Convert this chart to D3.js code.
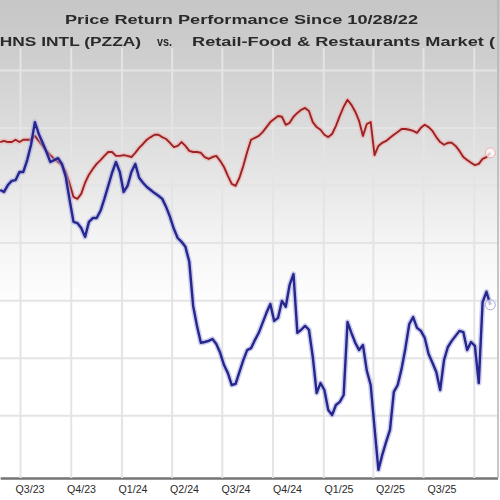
<!DOCTYPE html>
<html>
<head>
<meta charset="utf-8">
<script src="https://cdn.jsdelivr.net/npm/d3@7"></script>
<style>
body { margin: 0; background: #fff; }
svg { display: block; font-family: Arial, "Liberation Sans", sans-serif; }
</style>
</head>
<body>
<svg width="500" height="500"></svg>
<script>
// weekly closes (Fridays), % price return since 10/28/22
var firstWeek = new Date(2023, 4, 26),
    lastWeek = new Date(2025, 9, 31);

var titleText = "Price Return Performance Since 10/28/22";
var tickerText = "PAPA JOHNS INTL (PZZA)";
var marketText = "Retail-Food & Restaurants Market (";

var quarterLabels = ["Q3/23", "Q4/23", "Q1/24", "Q2/24", "Q3/24", "Q4/24", "Q1/25", "Q2/25", "Q3/25"];
var gridValues = [-45, -30, -15, 0, 15, 30, 45];

var pzza = [
  13.7, 13.2, 15.0, 16.1, 16.3, 18.4, 18.4, 21.5, 25.5, 31.4,
  28.3, 26.0, 23.6, 21.0, 21.5, 22.0, 20.5, 17.1, 11.1, 5.4,
  5.1, 3.8, 1.5, 5.4, 6.4, 6.4, 8.3, 11.4, 14.8, 18.2,
  21.0, 18.4, 13.2, 14.8, 18.4, 20.5, 16.9, 15.6, 14.5, 13.7,
  12.9, 12.2, 11.4, 9.3, 6.7, 3.6, 1.2, 0.2, -1.1, -5.0,
  -16.5, -21.7, -26.1, -25.9, -25.6, -25.1, -26.4, -28.7, -31.9, -34.0,
  -37.1, -36.8, -33.7, -30.6, -28.0, -27.5, -25.4, -23.5, -20.9, -18.3,
  -16.0, -20.4, -19.6, -15.2, -16.7, -11.0, -8.2, -23.5, -22.7, -21.7,
  -22.7, -29.8, -39.2, -36.6, -38.4, -43.6, -44.9, -42.3, -41.5, -39.7,
  -20.7, -23.5, -26.1, -28.0, -26.7, -33.4, -37.1, -48.3, -59.2, -55.3,
  -51.9, -48.8, -38.9, -37.1, -32.9, -27.5, -21.2, -19.4, -22.2, -23.0,
  -24.8, -29.0, -31.3, -33.7, -38.4, -30.6, -27.2, -25.6, -24.3, -23.0,
  -23.3, -28.0, -25.9, -26.9, -36.6, -15.5, -12.8, -16.2
];

var market = [
  26.2, 26.5, 26.2, 26.2, 26.8, 26.2, 26.8, 26.8, 26.8, 27.8,
  26.5, 25.2, 23.9, 22.8, 21.8, 21.0, 20.2, 18.4, 15.3, 11.9,
  11.4, 12.7, 15.6, 17.7, 19.2, 20.5, 21.5, 22.6, 23.6, 23.6,
  22.6, 22.6, 22.8, 22.6, 22.3, 23.4, 24.7, 25.7, 26.8, 27.5,
  28.1, 28.1, 27.5, 27.0, 26.0, 24.9, 25.2, 26.2, 25.2, 23.9,
  23.6, 23.6, 23.4, 22.3, 21.8, 22.3, 22.6, 21.3, 19.7, 17.4,
  15.3, 14.8, 16.9, 20.0, 23.6, 26.8, 27.3, 27.8, 28.8, 30.1,
  31.4, 32.2, 33.0, 32.8, 30.7, 31.2, 32.8, 33.8, 34.6, 35.1,
  34.3, 31.4, 30.1, 29.4, 28.1, 27.5, 28.3, 30.4, 33.0, 35.4,
  37.2, 35.9, 34.1, 31.7, 27.8, 30.9, 31.4, 22.8, 25.2, 26.0,
  26.5, 27.3, 28.1, 28.8, 29.6, 29.6, 29.4, 29.1, 28.6, 29.9,
  30.7, 30.1, 29.1, 27.5, 26.2, 25.5, 26.0, 26.0, 25.2, 23.9,
  22.3, 21.5, 20.8, 20.2, 20.5, 21.8, 22.3, 23.4
];

var svg = d3.select("svg"),
    width = +svg.attr("width"),
    height = +svg.attr("height"),
    plotTop = 58,
    plotBottom = 478,
    plotRight = 497;

var weeks = d3.timeFriday.range(firstWeek, d3.timeDay.offset(lastWeek, 1));

var x = d3.scaleTime()
    .domain([firstWeek, new Date(2025, 10, 13)])
    .range([0.16, plotRight + 0.5]);

var y = d3.scaleLinear()
    .domain([-60, 45])
    .range([472.9, 69.9]);

var xl = d3.scalePoint()
    .domain(quarterLabels)
    .range([15, 427]);

var defs = svg.append("defs");
var grad = defs.append("linearGradient")
    .attr("id", "bg")
    .attr("x1", 0).attr("y1", 0).attr("x2", 0).attr("y2", 1);
grad.append("stop").attr("offset", "0").attr("stop-color", "#c6c6c6");
grad.append("stop").attr("offset", "0.12").attr("stop-color", "#cfcfcf");
grad.append("stop").attr("offset", "0.3").attr("stop-color", "#e0e0e0");
grad.append("stop").attr("offset", "0.5").attr("stop-color", "#f6f6f6");
grad.append("stop").attr("offset", "0.62").attr("stop-color", "#ffffff");
grad.append("stop").attr("offset", "1").attr("stop-color", "#ffffff");

defs.append("filter").attr("id", "soft")
  .append("feGaussianBlur").attr("stdDeviation", 0.6);

svg.append("rect")
    .attr("width", width)
    .attr("height", height)
    .attr("fill", "url(#bg)");

// gridlines
var xGrid = d3.axisBottom(x)
    .ticks(d3.timeMonth.every(3))
    .tickSize(-(plotBottom - plotTop + 10))
    .tickSizeOuter(0)
    .tickFormat("");

var yGrid = d3.axisLeft(y)
    .tickValues(gridValues)
    .tickSize(-plotRight)
    .tickFormat("");

var grid = svg.append("g").attr("filter", "url(#soft)");

grid.append("g")
    .attr("class", "grid grid--y")
    .call(yGrid)
    .call(function(g) { g.select(".domain").remove(); })
    .selectAll("line")
      .attr("stroke", "#e4e4e4")
      .attr("stroke-width", 2);

var gx = grid.append("g")
    .attr("class", "grid grid--x")
    .attr("transform", "translate(0," + plotBottom + ")")
    .call(xGrid);
gx.selectAll(".tick line")
    .attr("stroke", "#e4e4e4")
    .attr("stroke-width", 2);
gx.select(".domain")
    .attr("stroke", "#757575")
    .attr("stroke-width", 2.5);

// right border
svg.append("line")
    .attr("x1", plotRight + 1).attr("x2", plotRight + 1)
    .attr("y1", 0).attr("y2", plotBottom)
    .attr("stroke", "#b4b4b4")
    .attr("stroke-width", 1.5);

// quarter labels
var xAxis = d3.axisBottom(xl).tickSize(0).tickPadding(0);
svg.append("g")
    .attr("class", "axis axis--x")
    .attr("transform", "translate(0," + (plotBottom + 8) + ")")
    .call(xAxis)
    .call(function(g) { g.select(".domain").remove(); })
    .selectAll("text")
      .attr("text-anchor", "start")
      .attr("font-family", "Arial, 'Liberation Sans', sans-serif")
      .attr("font-size", 10)
      .attr("fill", "#2a2a2a")
      .attr("textLength", 29)
      .attr("lengthAdjust", "spacingAndGlyphs");

// series
var line = d3.line()
    .x(function(d, i) { return x(weeks[i]); })
    .y(function(d) { return y(d); });

var series = [
  {name: "market", values: market, color: "#9c2424", halo: "#eeaaaa", w: 1.9},
  {name: "pzza", values: pzza, color: "#25258f", halo: "#a6a6dc", w: 2.4}
];

var lines = svg.append("g").attr("filter", "url(#soft)");

series.forEach(function(s) {
  lines.append("path")
      .datum(s.values)
      .attr("fill", "none")
      .attr("stroke", s.halo)
      .attr("stroke-opacity", 0.55)
      .attr("stroke-width", s.w + 3)
      .attr("stroke-linejoin", "round")
      .attr("d", line);
  lines.append("path")
      .datum(s.values)
      .attr("class", "line " + s.name)
      .attr("fill", "none")
      .attr("stroke", s.color)
      .attr("stroke-width", s.w)
      .attr("stroke-linejoin", "round")
      .attr("d", line);
  var n = s.values.length - 1;
  lines.append("circle")
      .attr("cx", x(weeks[n]))
      .attr("cy", y(s.values[n]))
      .attr("r", 5)
      .attr("fill", "#ffffff")
      .attr("fill-opacity", 0.7)
      .attr("stroke", s.halo)
      .attr("stroke-width", 1);
});

// titles
svg.append("text")
    .attr("x", 65)
    .attr("y", 24)
    .attr("font-size", 13)
    .attr("font-weight", "bold")
    .attr("fill", "#2a2a2a")
    .attr("textLength", 353)
    .attr("lengthAdjust", "spacingAndGlyphs")
    .text(titleText);

svg.append("text")
    .attr("x", 141)
    .attr("y", 46)
    .attr("text-anchor", "end")
    .attr("font-size", 13)
    .attr("font-weight", "bold")
    .attr("fill", "#2a2a2a")
    .attr("textLength", 214)
    .attr("lengthAdjust", "spacingAndGlyphs")
    .text(tickerText);

svg.append("text")
    .attr("x", 157)
    .attr("y", 46)
    .attr("font-size", 12)
    .attr("font-weight", "bold")
    .attr("fill", "#2a2a2a")
    .attr("textLength", 15)
    .attr("lengthAdjust", "spacingAndGlyphs")
    .text("vs.");

svg.append("text")
    .attr("x", 192)
    .attr("y", 46)
    .attr("font-size", 13)
    .attr("font-weight", "bold")
    .attr("fill", "#2a2a2a")
    .attr("textLength", 303)
    .attr("lengthAdjust", "spacingAndGlyphs")
    .text(marketText);
</script>
</body>
</html>
